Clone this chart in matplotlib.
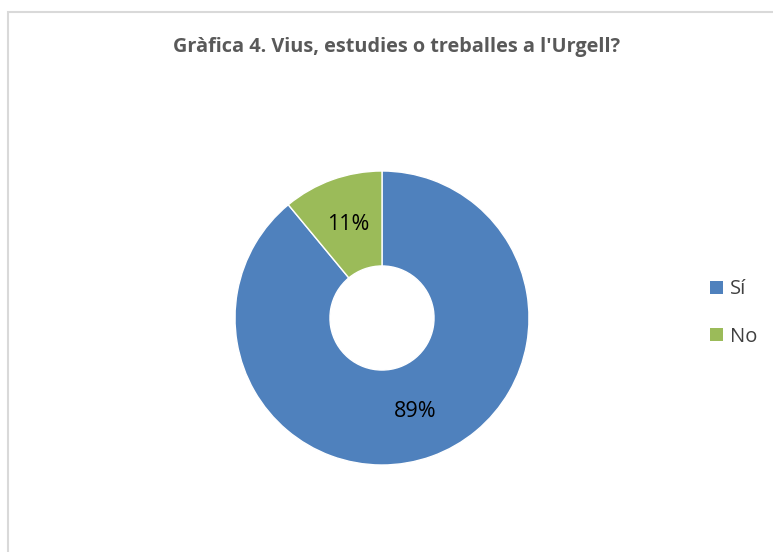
import matplotlib.pyplot as plt
from matplotlib.patches import Rectangle, Patch

labels = ['Sí', 'No']
values = [89, 11]
colors = ['#4F81BD', '#9BBB59']
title = "Gràfica 4. Vius, estudies o treballes a l'Urgell?"

plt.rcParams['font.family'] = ['Open Sans', 'DejaVu Sans']

W, H = 773, 552
fig = plt.figure(figsize=(W / 100, H / 100), dpi=100)

# light gray chart border, cut by the right and bottom edges
fig.patches.append(Rectangle((8 / W, -0.1), 1.2, (H - 12) / H + 0.1,
                             transform=fig.transFigure, fill=False,
                             edgecolor='#D9D9D9', linewidth=1.5))

cx, cy, half = 382, 318, 150
ax = fig.add_axes([(cx - half) / W, (H - cy - half) / H, 2 * half / W, 2 * half / H])
lim = half / 147

wedges, texts, autotexts = ax.pie(values, colors=colors, startangle=90, counterclock=False,
                                  radius=1, autopct='%1.0f%%', pctdistance=0.675,
                                  wedgeprops=dict(width=0.646, edgecolor='white', linewidth=1),
                                  textprops=dict(fontsize=15.5, color='black'))
ax.set_aspect('equal')
ax.axis('off')
ax.set_xlim(-lim, lim)
ax.set_ylim(-lim, lim)

fig.text(397 / W, 1 - 47 / H, title, ha='center', va='center', fontsize=14.3,
         fontweight='bold', color='#595959')

handles = [Patch(facecolor=c, edgecolor='none') for c in colors]
fig.legend(handles, labels, loc='center left', bbox_to_anchor=(692 / W, 1 - 313 / H),
           frameon=False, fontsize=14.5, labelcolor='#404040', handlelength=0.65,
           handleheight=0.65, handletextpad=0.35, labelspacing=1.35)

fig.savefig('out.png', dpi=100)
